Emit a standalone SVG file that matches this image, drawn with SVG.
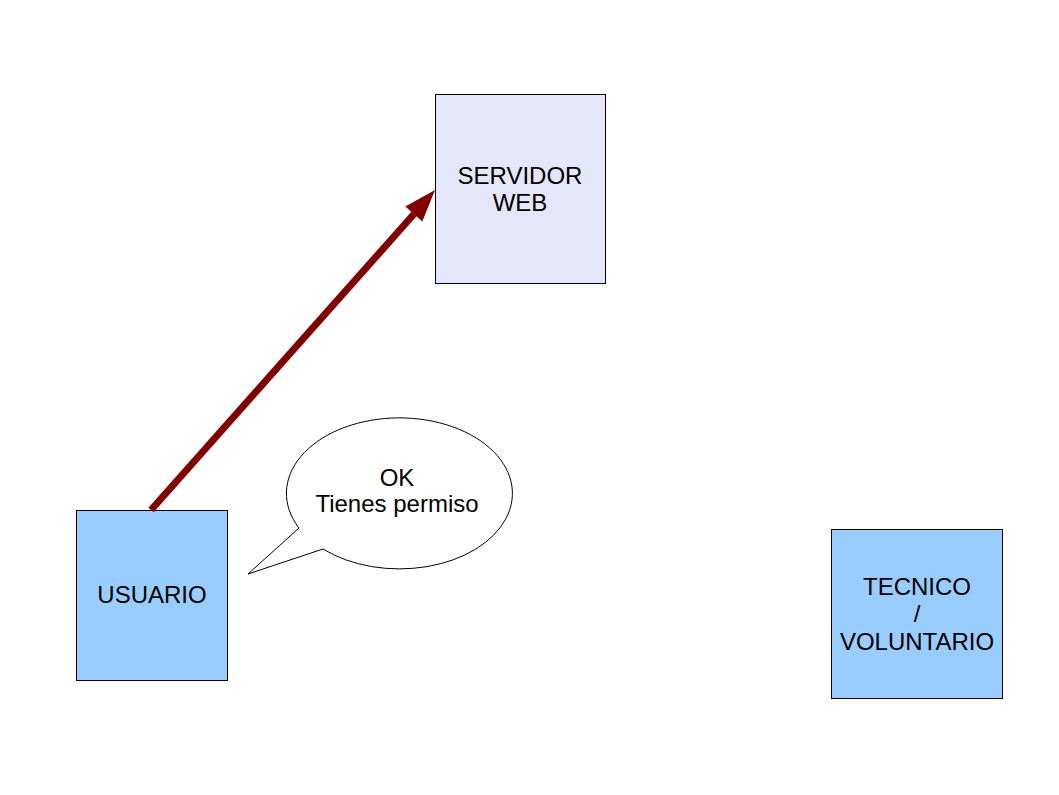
<svg xmlns="http://www.w3.org/2000/svg" width="1059" height="795" viewBox="0 0 1059 795">
<style>
.box{stroke:#000;stroke-width:1}
.lbl{font-family:"Liberation Sans",Arial,sans-serif;font-size:24px;fill:#000;text-anchor:middle}
</style>
<rect width="1059" height="795" fill="#fff"/>
<g id="servidor">
<rect class="box" x="435.5" y="94.5" width="170" height="189" fill="#e6e6fa"/>
<text class="lbl" x="520" y="184">SERVIDOR</text>
<text class="lbl" x="520" y="211">WEB</text>
</g>
<g id="usuario">
<rect class="box" x="76.5" y="510.5" width="151" height="170" fill="#99ccff"/>
<text class="lbl" x="152" y="603">USUARIO</text>
</g>
<g id="tecnico">
<rect class="box" x="831.5" y="529.5" width="171" height="169" fill="#99ccff"/>
<text class="lbl" x="917" y="595">TECNICO</text>
<text class="lbl" x="917" y="622">/</text>
<text class="lbl" x="917" y="650">VOLUNTARIO</text>
</g>
<g id="callout">
<path d="M299,528 A113,75.5 0 1 1 323,549 L248,574 Z" fill="#fff" stroke="#000" stroke-width="1"/>
<text class="lbl" x="397" y="486">OK</text>
<text class="lbl" x="397" y="512">Tienes permiso</text>
</g>
<g id="connectors">
<line x1="151" y1="510" x2="414" y2="214" stroke="#800000" stroke-width="7"/>
<polygon points="435,190 405.3,206.4 422.3,221.4" fill="#800000"/>
</g>
</svg>
